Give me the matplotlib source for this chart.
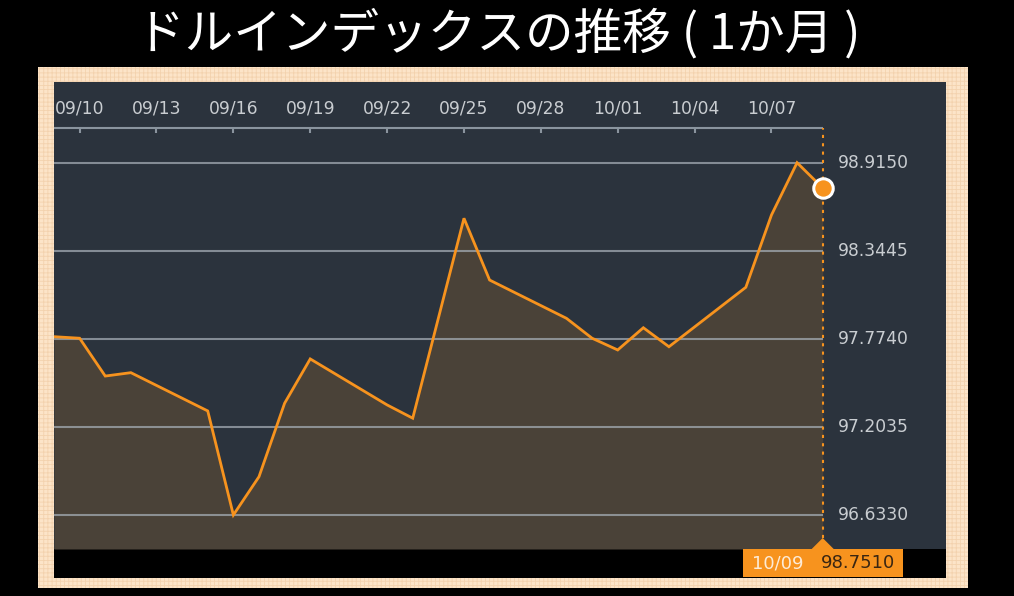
import matplotlib
matplotlib.use("Agg")
import matplotlib.pyplot as plt
import matplotlib.transforms as mtransforms
from matplotlib.patches import Rectangle, Polygon
import pandas as pd

# ---- data ----
dates = ["2025-09-09", "2025-09-10", "2025-09-11", "2025-09-12", "2025-09-15",
         "2025-09-16", "2025-09-17", "2025-09-18", "2025-09-19", "2025-09-22",
         "2025-09-23", "2025-09-25", "2025-09-26", "2025-09-29", "2025-09-30",
         "2025-10-01", "2025-10-02", "2025-10-03", "2025-10-06", "2025-10-07",
         "2025-10-08", "2025-10-09"]
values = [97.788, 97.778, 97.533, 97.555, 97.307,
          96.633, 96.881, 97.357, 97.644, 97.346,
          97.260, 98.555, 98.155, 97.907, 97.778,
          97.702, 97.846, 97.723, 98.108, 98.576,
          98.915, 98.751]
y_ticks = [96.6330, 97.2035, 97.7740, 98.3445, 98.9150]
x_tick_labels = ["09/10", "09/13", "09/16", "09/19", "09/22", "09/25",
                 "09/28", "10/01", "10/04", "10/07"]
title = "ドルインデックスの推移 ( 1か月 )"
last_date_label = "10/09"
last_value_label = "98.7510"

# ---- layout helpers ----
W, H = 1014, 596
def fx(px): return px / W
def fy(py): return 1 - py / H

plt.rcParams['hatch.linewidth'] = 0.6

fig = plt.figure(figsize=(W / 100, H / 100), dpi=100, facecolor="black")

# cream frame
fig.add_artist(Rectangle((fx(38), fy(588)), fx(968) - fx(38), fy(67) - fy(588),
                         transform=fig.transFigure, facecolor="#fce4c8",
                         edgecolor="#f3d2ae", hatch="++++", linewidth=0, zorder=-2))
# black strip under panel
fig.add_artist(Rectangle((fx(54), fy(578)), fx(946) - fx(54), fy(549) - fy(578),
                         transform=fig.transFigure, facecolor="black",
                         edgecolor="none", zorder=-1))

# title
fig.text(fx(498), fy(34), title, color="white", fontsize=35, ha="center", va="center",
         family=["Noto Sans CJK JP", "DejaVu Sans"], weight="normal")

# main axes (dark panel)
ax = fig.add_axes([fx(54), fy(549), fx(946) - fx(54), fy(82) - fy(549)])
ax.set_facecolor("#2b333d")
for s in ax.spines.values():
    s.set_visible(False)
ax.set_xticks([])
ax.set_yticks([])

base = pd.Timestamp("2025-09-10")
xd = [(pd.Timestamp(d) - base).days for d in dates]
x0, x_last = xd[0], xd[-1]
px_per_day = (822.7 - 54) / (x_last - x0)
ax.set_xlim(x0, x0 + (946 - 54) / px_per_day)
units_per_px = (y_ticks[-1] - y_ticks[0]) / (515 - 162.7)
ymax = y_ticks[-1] + (162.7 - 82) * units_per_px
ymin = y_ticks[-1] - (549 - 162.7) * units_per_px
ax.set_ylim(ymin, ymax)

# area fill
ax.fill_between(xd, values, ymin, color="#4a4238", zorder=1, linewidth=0)

# gridlines
ax.hlines(y_ticks, x0, x_last, colors="#a3abb3", linewidth=1.5, alpha=0.75, zorder=2)

# top axis line with ticks
y_axis_top = y_ticks[-1] + (162.7 - 128) * units_per_px
tick_len = 5 * units_per_px
ax.hlines(y_axis_top, x0, x_last, colors="#8a949e", linewidth=1.5, zorder=2)
tick_pos = [(pd.Timestamp("2025-" + t.replace("/", "-")) - base).days for t in x_tick_labels]
ax.vlines(tick_pos, y_axis_top - tick_len, y_axis_top, colors="#8a949e", linewidth=1.5, zorder=2)
y_label = y_ticks[-1] + (162.7 - 109) * units_per_px
for p, t in zip(tick_pos, x_tick_labels):
    ax.text(p, y_label, t, color="#c9cdd1", fontsize=12.3, ha="center", va="center",
            family="DejaVu Sans")

# right value labels
for v in y_ticks:
    ax.text(x_last + (838 - 822.7) / px_per_day, v, f"{v:.4f}", color="#c9cdd1",
            fontsize=12.3, ha="left", va="center", family="DejaVu Sans")

# dotted vertical at last point
tri_top = ymin + (549 - 538) * units_per_px
ax.vlines(x_last, tri_top, y_axis_top, colors="#f7931e", linewidth=1.5,
          linestyles=(0, (1.5, 2.5)), zorder=3)

# line
ax.plot(xd, values, color="#f7931e", linewidth=2.0, zorder=4, solid_joinstyle="miter")
ax.plot([x_last], [values[-1]], marker="o", markersize=14, markerfacecolor="#f7931e",
        markeredgecolor="white", markeredgewidth=2.2, zorder=5, clip_on=False)

# bottom label box
blend = mtransforms.blended_transform_factory(ax.transData, ax.transAxes)
d = 1 / px_per_day
h_ax = 1 / (549 - 82)
ax.add_patch(Rectangle((x_last - 79.7 * d, -28 * h_ax), 160 * d, 28 * h_ax,
                       transform=blend, facecolor="#f7931e", edgecolor="none",
                       clip_on=False, zorder=5))
ax.add_patch(Polygon([(x_last - 11 * d, 0), (x_last + 11 * d, 0), (x_last, 11 * h_ax)],
                     closed=True, transform=blend, facecolor="#f7931e", edgecolor="none",
                     clip_on=False, zorder=5))
ax.text(x_last - 45 * d, -14 * h_ax, last_date_label, transform=blend, color="#fdebd6",
        fontsize=13, ha="center", va="center", family="DejaVu Sans", zorder=6)
ax.text(x_last + 35 * d, -14 * h_ax, last_value_label, transform=blend, color="#3a2612",
        fontsize=13, ha="center", va="center", family="DejaVu Sans", zorder=6)

fig.savefig("out.png", dpi=100, facecolor="black")
